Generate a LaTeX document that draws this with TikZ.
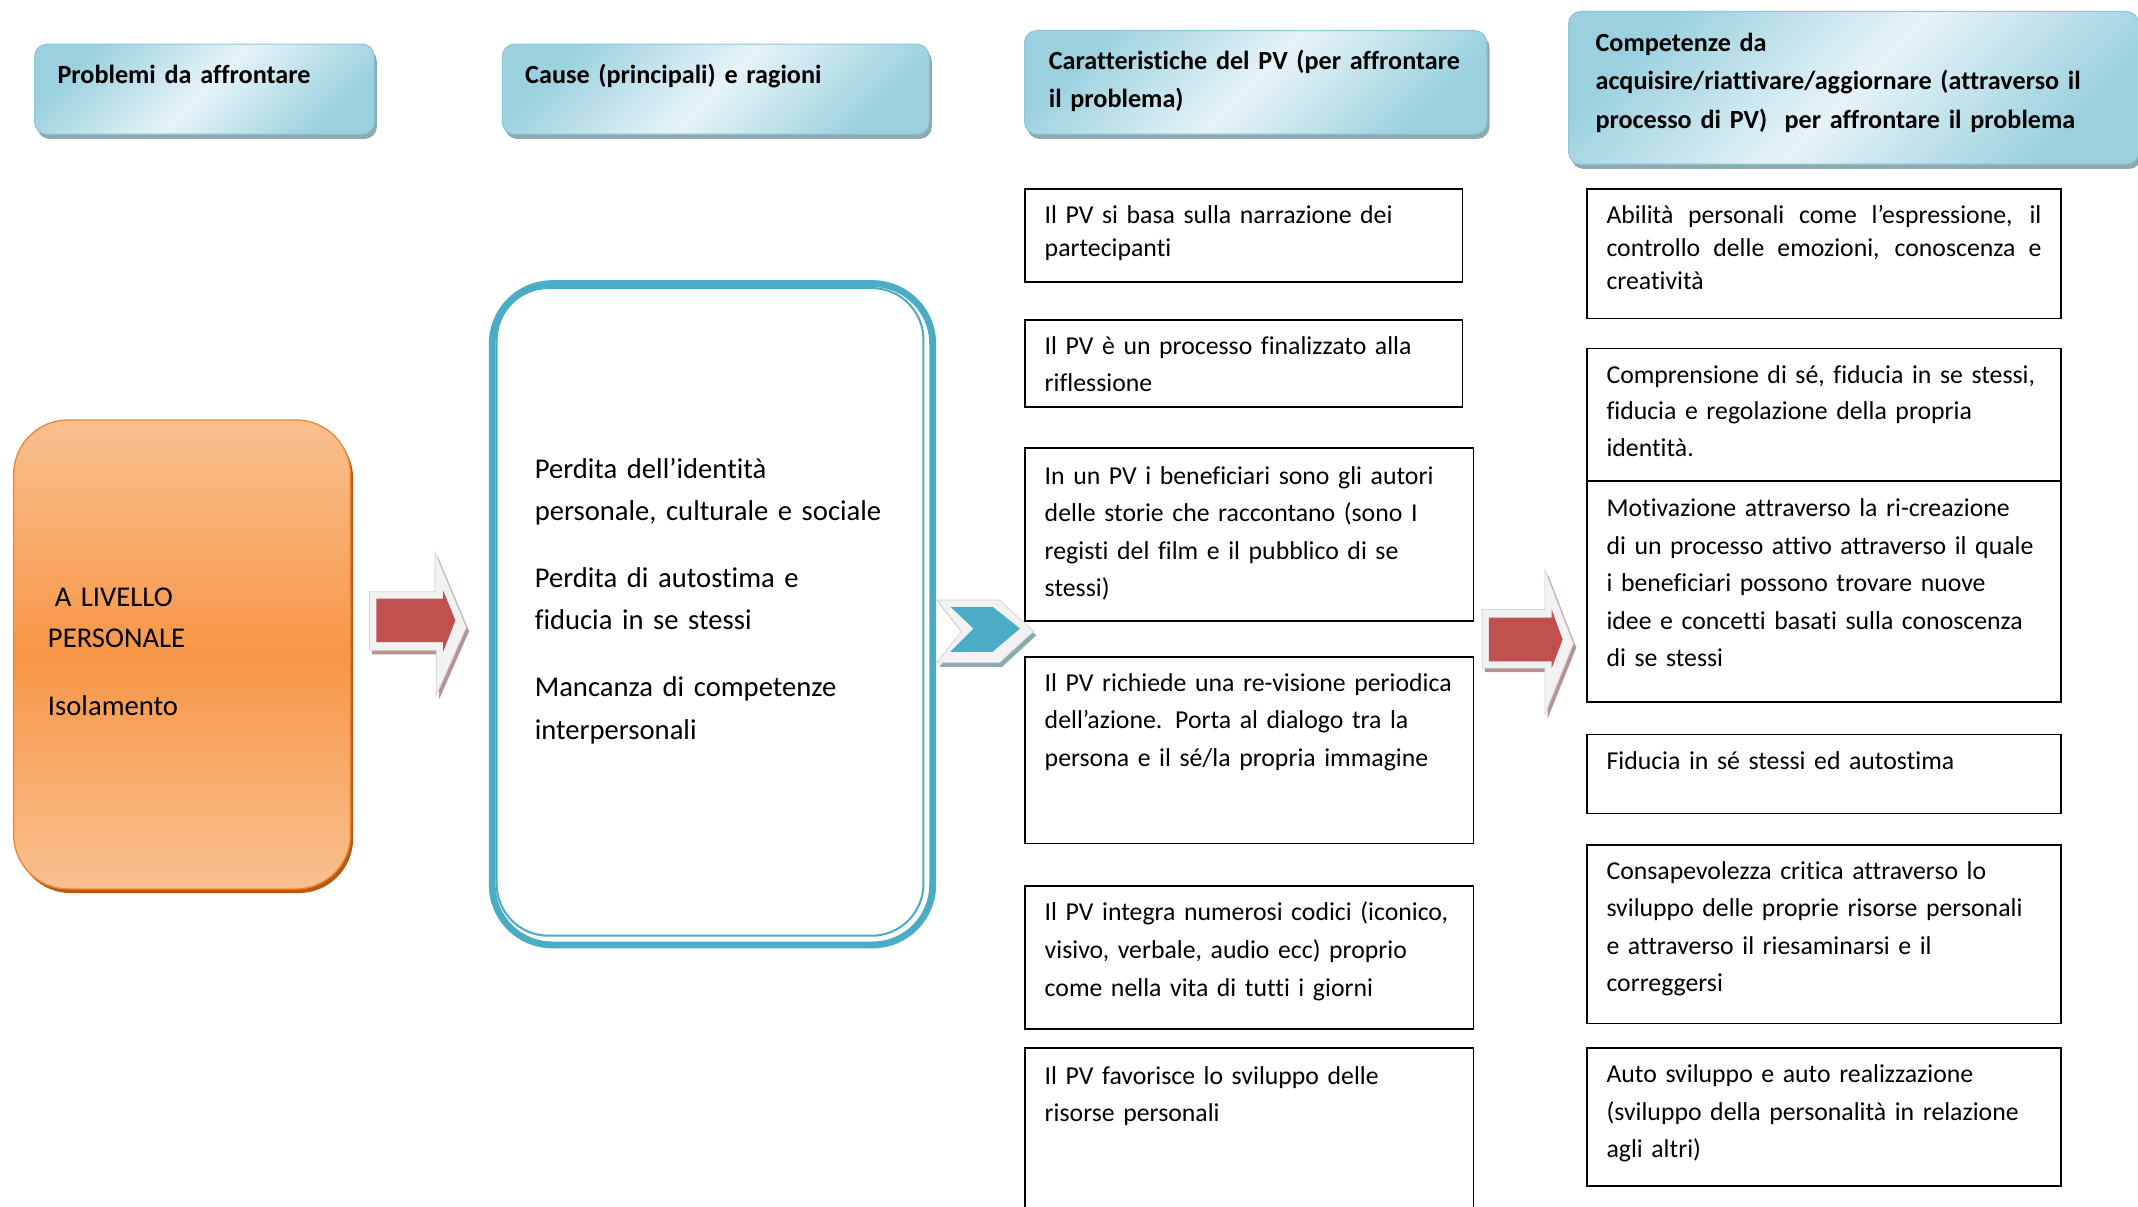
\documentclass[tikz,border=0pt]{standalone}
\usepackage{fontspec}
\setmainfont{Carlito}[Ligatures=NoCommon]
\usetikzlibrary{shadows}
\definecolor{hdark}{HTML}{9BD1DF}
\definecolor{hlight}{HTML}{E6F3F7}
\definecolor{hedge}{HTML}{8CC8D8}
\definecolor{hshadow}{HTML}{8EA9B1}
\definecolor{orlight}{HTML}{F9C08F}
\definecolor{ordark}{HTML}{F79646}
\definecolor{oredge}{HTML}{E9893A}
\definecolor{orshadow}{HTML}{B85A12}
\definecolor{pvblue}{HTML}{4BACC6}
\definecolor{arred}{HTML}{C0504D}
\definecolor{arlight}{HTML}{F2F2F2}
\definecolor{arshadow}{HTML}{B89393}
\definecolor{chshadow}{HTML}{8EA9B1}
\begin{document}
\begin{tikzpicture}[x=1pt,y=-1pt,
  hdr/.style={draw=hedge, line width=0.8pt, rounded corners=9pt, left color=hdark, right color=hdark, middle color=hlight, shading angle=45, anchor=north west, inner sep=0pt, drop shadow={shadow xshift=2pt, shadow yshift=-3.5pt, fill=hshadow, opacity=1}},
  htext/.style={font=\fontsize{19.2}{27.5}\selectfont\bfseries, text width=440pt, align=left, anchor=base west, inner sep=0pt},
  cbox/.style={draw=black, line width=1.3pt, anchor=north west, inner sep=0pt, fill=white},
  ctext/.style={font=\fontsize{18.9}{27.5}\selectfont, text width=345pt, align=left, anchor=base west, inner sep=0pt},
  ctextsingle/.style={font=\fontsize{18.9}{24}\selectfont, text width=345pt, align=left, anchor=base west, inner sep=0pt},
  btext/.style={font=\fontsize{21}{31}\selectfont, text width=300pt, align=left, anchor=base west, inner sep=0pt},
  otext/.style={font=\fontsize{21}{30}\selectfont, text width=200pt, align=left, anchor=base west, inner sep=0pt},
  arrowbase/.style={fill=arlight, draw=black!18, line width=0.5pt},
]
\useasboundingbox (0,0) rectangle (1568,885);
\fill[white] (0,0) rectangle (1568,885);

% headers
\node[hdr, minimum width=249pt, minimum height=66pt] (h1) at (25,32) {};
\node[hdr, minimum width=313pt, minimum height=66pt] (h2) at (368,32) {};
\node[hdr, minimum width=339pt, minimum height=76pt] (h3) at (751,22) {};
\node[hdr, minimum width=418pt, minimum height=112pt] (h4) at (1150,8) {};
\node[htext] (h1t) at (42,61) {Problemi da affrontare};
\node[htext] (h2t) at (385,61) {Cause (principali) e ragioni};
\node[htext] (h3t) at (769,51) {Caratteristiche del PV (per affrontare\\il problema)};
\node[htext, font=\fontsize{19.2}{28}\selectfont\bfseries] (h4t) at (1170,38) {Competenze da\\acquisire/riattivare/aggiornare (attraverso il\\processo di PV)\ \ per affrontare il problema};

% orange box
\node[draw=oredge, line width=1pt, rounded corners=40pt, top color=orlight, bottom color=orlight, middle color=ordark, minimum width=247pt, minimum height=344pt, anchor=north west, inner sep=0pt, drop shadow={shadow xshift=2pt, shadow yshift=-3pt, fill=orshadow, opacity=1}] (org) at (9.5,307.5) {};
\node[otext] (orgt) at (35,445) {\hspace*{5pt}A LIVELLO\\PERSONALE\\[20pt]Isolamento};

% blue double box
\node[draw=pvblue, line width=5pt, rounded corners=44pt, minimum width=323pt, minimum height=485pt, anchor=north west, inner sep=0pt] (cause) at (358.5,205.5) {};
\node[draw=pvblue, line width=1.5pt, rounded corners=38pt, minimum width=313pt, minimum height=475pt, anchor=north west, inner sep=0pt] (causein) at (363.5,210.5) {};
\node[btext] (causet) at (392,351) {Perdita dell’identità\\personale, culturale e sociale\\[18pt]Perdita di autostima e\\fiducia in se stessi\\[18pt]Mancanza di competenze\\interpersonali};

% column 3 boxes
\node[cbox, minimum width=321pt, minimum height=68pt] (b1) at (751,138) {};
\node[cbox, minimum width=321pt, minimum height=64pt] (b2) at (751,234) {};
\node[cbox, minimum width=329pt, minimum height=127pt] (b3) at (751,328) {};
\node[cbox, minimum width=329pt, minimum height=137pt] (b4) at (751,481) {};
\node[cbox, minimum width=329pt, minimum height=105pt] (b5) at (751,649) {};
\node[cbox, minimum width=329pt, minimum height=130pt] (b6) at (751,768) {};
\node[ctextsingle] (b1t) at (766,164) {Il PV si basa sulla narrazione dei\\partecipanti};
\node[ctext, font=\fontsize{18.9}{27}\selectfont] (b2t) at (766,260) {Il PV è un processo finalizzato alla\\riflessione};
\node[ctext] (b3t) at (766,355) {In un PV i beneficiari sono gli autori\\delle storie che raccontano (sono I\\registi del film e il pubblico di se\\stessi)};
\node[ctext] (b4t) at (766,507) {Il PV richiede una re-visione periodica\\dell’azione. Porta al dialogo tra la\\persona e il sé/la propria immagine};
\node[ctext, font=\fontsize{18.9}{28}\selectfont] (b5t) at (766,675) {Il PV integra numerosi codici (iconico,\\visivo, verbale, audio ecc) proprio\\come nella vita di tutti i giorni};
\node[ctext] (b6t) at (766,795) {Il PV favorisce lo sviluppo delle\\risorse personali};

% column 4 boxes
\node[cbox, minimum width=348pt, minimum height=95pt] (c1) at (1163,138) {};
\node[cbox, minimum width=348pt, minimum height=97pt] (c2) at (1163,255) {};
\node[cbox, minimum width=348pt, minimum height=162pt] (c3) at (1163,352) {};
\node[cbox, minimum width=348pt, minimum height=58pt] (c4) at (1163,538) {};
\node[cbox, minimum width=348pt, minimum height=131pt] (c5) at (1163,619) {};
\node[cbox, minimum width=348pt, minimum height=101pt] (c6) at (1163,768) {};
\node[ctextsingle, text width=319pt, align=justify] (c1t) at (1178,164) {Abilità personali come l’espressione, il\linebreak controllo delle emozioni, conoscenza e\linebreak creatività};
\node[ctext, font=\fontsize{18.9}{27}\selectfont] (c2t) at (1178,281) {Comprensione di sé, fiducia in se stessi,\\fiducia e regolazione della propria\\identità.};
\node[ctext] (c3t) at (1178,379) {Motivazione attraverso la ri-creazione\\di un processo attivo attraverso il quale\\i beneficiari possono trovare nuove\\idee e concetti basati sulla conoscenza\\di se stessi};
\node[ctext] (c4t) at (1178,564) {Fiducia in sé stessi ed autostima};
\node[ctext] (c5t) at (1178,645) {Consapevolezza critica attraverso lo\\sviluppo delle proprie risorse personali\\e attraverso il riesaminarsi e il\\correggersi};
\node[ctext] (c6t) at (1178,794) {Auto sviluppo e auto realizzazione\\(sviluppo della personalità in relazione\\agli altri)};

% red arrow 1 (orange box -> causes)
\begin{scope}[shift={(2,3)}]
\fill[arshadow] (271,434) -- (319,434) -- (319,405) -- (342,460) -- (320,510) -- (320,477) -- (271,477) -- cycle;
\end{scope}
\draw[arrowbase] (271,434) -- (319,434) -- (319,405) -- (342,460) -- (320,510) -- (320,477) -- (271,477) -- cycle;
\fill[arred] (276,439) -- (325,439) -- (325,433) -- (334,455) -- (325,478) -- (325,471) -- (276,471) -- cycle;

% blue chevron (causes -> characteristics)
\begin{scope}[shift={(2,3)}]
\fill[chshadow] (687,440) -- (733,440) -- (758,463) -- (733,486) -- (687,486) -- (705,463) -- cycle;
\end{scope}
\draw[arrowbase] (687,440) -- (733,440) -- (758,463) -- (733,486) -- (687,486) -- (705,463) -- cycle;
\fill[pvblue] (697,445) -- (728,445) -- (748,461) -- (728,478) -- (697,478) -- (714,461) -- cycle;

% red arrow 2 (characteristics -> competences)
\begin{scope}[shift={(2,3)}]
\fill[arshadow] (1087,447) -- (1133,447) -- (1133,418) -- (1154,472) -- (1133,524) -- (1133,490) -- (1087,490) -- cycle;
\end{scope}
\draw[arrowbase] (1087,447) -- (1133,447) -- (1133,418) -- (1154,472) -- (1133,524) -- (1133,490) -- (1087,490) -- cycle;
\fill[arred] (1092,453) -- (1138,453) -- (1138,447) -- (1146,469) -- (1138,490) -- (1138,485) -- (1092,485) -- cycle;
\end{tikzpicture}
\end{document}
